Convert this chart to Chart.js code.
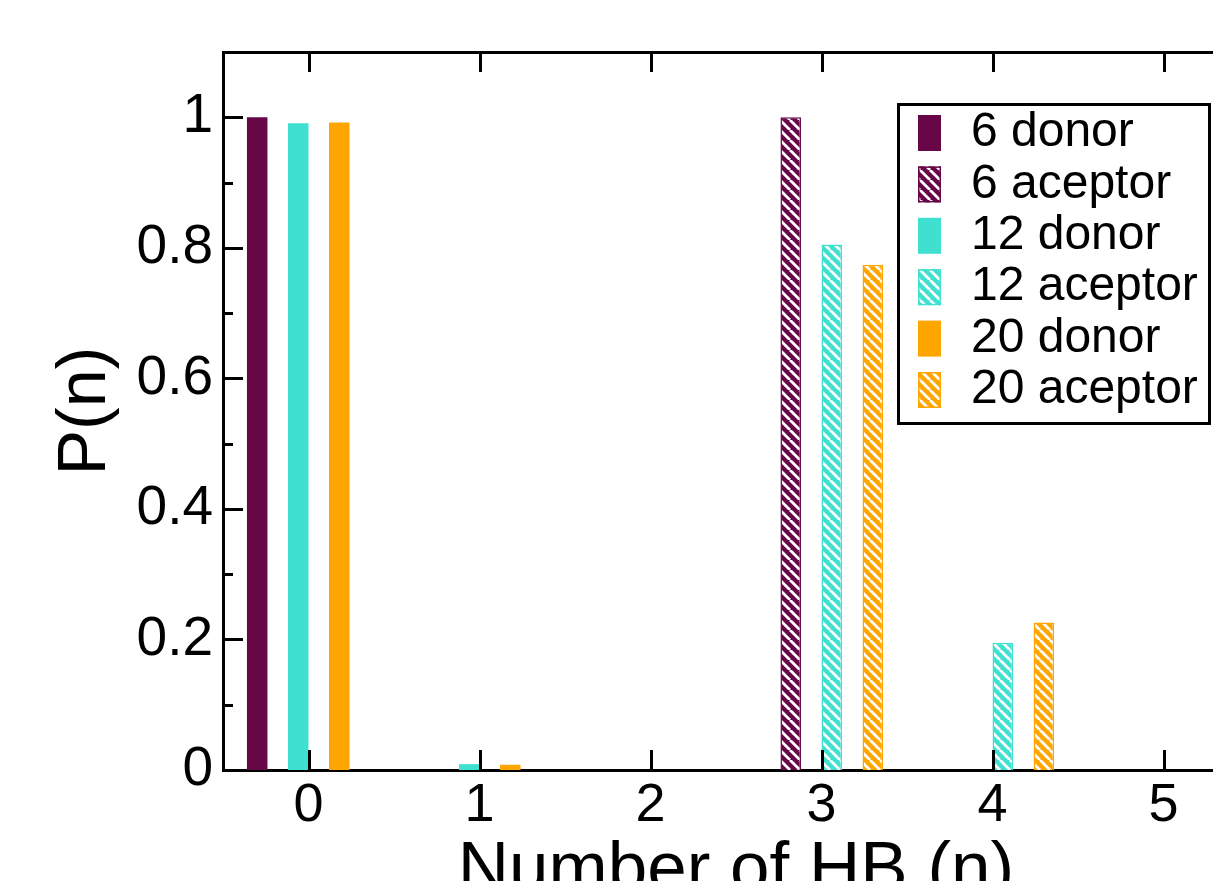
<!DOCTYPE html>
<html><head><meta charset="utf-8">
<script src="https://cdn.jsdelivr.net/npm/chart.js@4/dist/chart.umd.min.js"></script>
<style>html,body{margin:0;padding:0;overflow:hidden;background:#fff}canvas{display:block}</style>
</head><body>
<canvas id="c" width="1280" height="940"></canvas>
<script>
// ---- data ----
const hbCounts = [0, 1, 2, 3, 4, 5];
const xTickLabels = ['0', '1', '2', '3', '4', '5'];
const yTickValues = [0, 0.2, 0.4, 0.6, 0.8, 1];
const yTickLabels = ['0', '0.2', '0.4', '0.6', '0.8', '1'];
const yMinorTickValues = [0.1, 0.3, 0.5, 0.7, 0.9];
const seriesLabels = ['6 donor', '6 aceptor', '12 donor', '12 aceptor', '20 donor', '20 aceptor'];
const donor6    = [1.000, 0,     0, 0,     0,     0];
const aceptor6  = [0,     0,     0, 1.000, 0,     0];
const donor12   = [0.991, 0.009, 0, 0,     0,     0];
const aceptor12 = [0,     0,     0, 0.805, 0.195, 0];
const donor20   = [0.992, 0.008, 0, 0,     0,     0];
const aceptor20 = [0,     0,     0, 0.774, 0.226, 0];

// ---- styles ----
const FONT = '"Liberation Sans", Arial, sans-serif';
const MAROON = '#670748', TURQ = '#40e0d0', ORANGE = '#ffa500';
const canvas = document.getElementById('c');
const mainCtx = canvas.getContext('2d');

function hatch(color) {
  const c = document.createElement('canvas');
  c.width = 10; c.height = 10;
  const g = c.getContext('2d');
  g.fillStyle = color; g.fillRect(0, 0, 10, 10);
  g.strokeStyle = '#fff'; g.lineWidth = 2.8;
  g.beginPath();
  for (const o of [-10, 0, 10]) { g.moveTo(o, 0); g.lineTo(o + 10, 10); }
  g.stroke();
  return mainCtx.createPattern(c, 'repeat');
}

const seriesValues = [donor6, aceptor6, donor12, aceptor12, donor20, aceptor20];
const seriesColors = [MAROON, MAROON, TURQ, TURQ, ORANGE, ORANGE];
const seriesHatched = [false, true, false, true, false, true];

const datasets = seriesValues.map((vals, i) => ({
  label: seriesLabels[i],
  data: hbCounts.map((n, k) => ({ x: n, y: vals[k] })),
  backgroundColor: seriesHatched[i] ? hatch(seriesColors[i]) : seriesColors[i],
  borderColor: seriesColors[i],
  borderWidth: seriesHatched[i] ? 1.5 : 0,
  hatched: seriesHatched[i]
}));

const MAJOR = 20, MINOR = 10;
const tickMarks = {
  id: 'tickMarks',
  afterDraw(chart) {
    const { ctx, chartArea: a, scales: { x, y } } = chart;
    ctx.save();
    ctx.strokeStyle = '#000'; ctx.lineWidth = 3;
    ctx.beginPath();
    yTickValues.forEach(v => { const p = Math.round(y.getPixelForValue(v)) + 0.5; ctx.moveTo(a.left, p); ctx.lineTo(a.left + MAJOR, p); });
    yMinorTickValues.forEach(v => { const p = Math.round(y.getPixelForValue(v)) + 0.5; ctx.moveTo(a.left, p); ctx.lineTo(a.left + MINOR, p); });
    hbCounts.forEach(v => {
      const p = Math.round(x.getPixelForValue(v)) + 0.5;
      ctx.moveTo(p, a.bottom); ctx.lineTo(p, a.bottom - MAJOR);
      ctx.moveTo(p, a.top); ctx.lineTo(p, a.top + MAJOR);
    });
    ctx.stroke();
    ctx.restore();
  }
};

const LG = { x: 898.5, y: 104.5, w: 311, h: 319, swX: 918, swW: 23, swH: 36, textX: 971, row0: 133, step: 51.4, size: 48 };
const legendBox = {
  id: 'legendBox',
  afterDraw(chart) {
    const ctx = chart.ctx;
    ctx.save();
    ctx.fillStyle = '#fff'; ctx.fillRect(LG.x, LG.y, LG.w, LG.h);
    ctx.lineWidth = 3; ctx.strokeStyle = '#000'; ctx.strokeRect(LG.x, LG.y, LG.w, LG.h);
    chart.data.datasets.forEach((ds, i) => {
      const cy = LG.row0 + i * LG.step;
      ctx.fillStyle = ds.backgroundColor;
      ctx.fillRect(LG.swX, cy - LG.swH / 2, LG.swW, LG.swH);
      if (ds.hatched) {
        ctx.lineWidth = 1.5; ctx.strokeStyle = ds.borderColor;
        ctx.strokeRect(LG.swX + 0.75, cy - LG.swH / 2 + 0.75, LG.swW - 1.5, LG.swH - 1.5);
      }
      ctx.fillStyle = '#000';
      ctx.font = LG.size + 'px ' + FONT;
      ctx.textBaseline = 'middle'; ctx.textAlign = 'left';
      ctx.fillText(ds.label, LG.textX, cy);
    });
    ctx.restore();
  }
};

Chart.defaults.color = '#000';
new Chart(canvas, {
  type: 'bar',
  data: { datasets },
  options: {
    responsive: false,
    animation: false,
    layout: { padding: { left: 0, right: 31, top: 0, bottom: 0 } },
    plugins: { legend: { display: false }, tooltip: { enabled: false } },
    datasets: { bar: { barPercentage: 1, categoryPercentage: 0.72 } },
    scales: {
      x: {
        type: 'linear', position: 'bottom', min: -0.5, max: 5.5, offset: false, z: 1,
        grid: { display: false, drawTicks: false },
        border: { display: true, color: '#000', width: 3 },
        afterBuildTicks: s => { s.ticks = hbCounts.map(v => ({ value: v })); },
        ticks: { padding: 9, color: '#000', font: { family: FONT, size: 54, lineHeight: 1 },
                 callback: (v, i) => xTickLabels[i] },
        title: { display: true, text: 'Number of HB (n)', color: '#000',
                 font: { family: FONT, size: 71, lineHeight: 1 }, padding: { top: 0, bottom: 33 } },
        afterFit: s => { s.height = 170; }
      },
      xTop: {
        type: 'linear', position: 'top', min: -0.5, max: 5.5, offset: false, z: 1,
        grid: { display: false, drawTicks: false },
        border: { display: true, color: '#000', width: 3 },
        ticks: { display: false },
        afterFit: s => { s.height = 52; }
      },
      y: {
        type: 'linear', position: 'left', min: 0, max: 1.1, z: 1,
        grid: { display: false, drawTicks: false },
        border: { display: true, color: '#000', width: 3 },
        afterBuildTicks: s => { s.ticks = yTickValues.map(v => ({ value: v })); },
        ticks: { padding: 10, color: '#000', font: { family: FONT, size: 55, lineHeight: 1 },
                 callback: (v, i) => yTickLabels[i] },
        title: { display: true, text: 'P(n)', color: '#000',
                 font: { family: FONT, size: 68, lineHeight: 1 }, padding: { top: 52, bottom: 0 } },
        afterFit: s => { s.width = 223; }
      }
    }
  },
  plugins: [tickMarks, legendBox]
});
</script>
</body></html>
